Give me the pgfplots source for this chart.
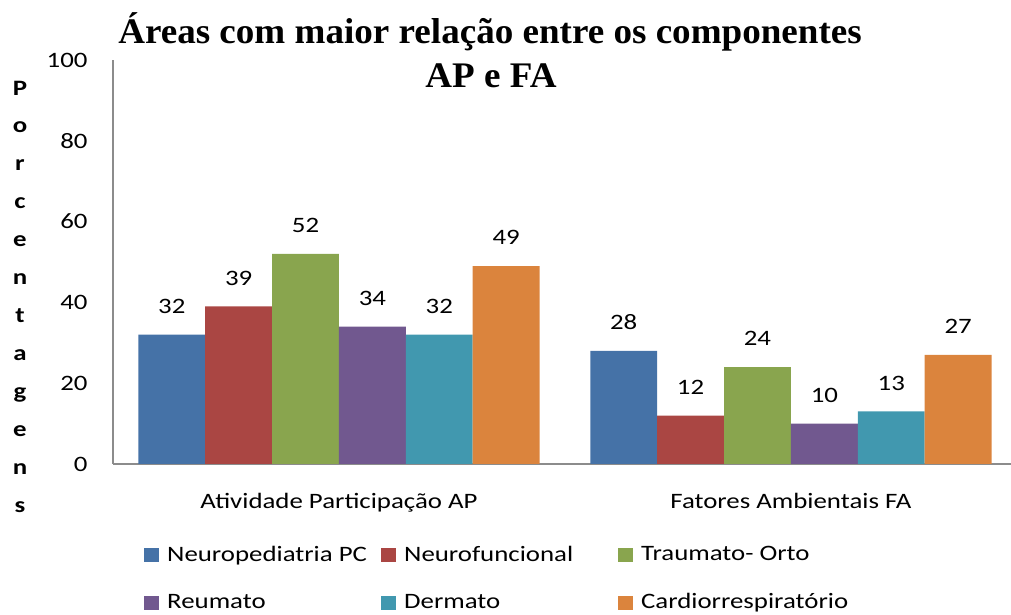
\documentclass[border=0pt]{standalone}
\usepackage{fontspec}
\setmainfont{Carlito}[FakeStretch=1.22]
\newfontfamily\titlefont[FakeStretch=1.03]{Liberation Serif}
\usepackage{pgfplots}
\pgfplotsset{compat=1.18}
\definecolor{cA}{HTML}{4572A7}
\definecolor{cB}{HTML}{AA4643}
\definecolor{cC}{HTML}{89A54E}
\definecolor{cD}{HTML}{71588F}
\definecolor{cE}{HTML}{4198AF}
\definecolor{cF}{HTML}{DB843D}
\begin{document}
\fontsize{22}{26}\selectfont
\begin{tikzpicture}[x=1pt,y=1pt]
\useasboundingbox (0,0) rectangle (1011,615);
\begin{axis}[
  at={(113pt,151pt)}, anchor=south west,
  scale only axis, width=898pt, height=404pt,
  xmin=-0.5, xmax=1.487, ymin=0, ymax=100,
  axis x line*=bottom, axis y line*=left,
  axis line style={draw=gray!90, line width=1.2pt, -},
  major tick length=0pt,
  ytick={0,20,...,100},
  xtick={0,1},
  xticklabels={Atividade Participação AP, Fatores Ambientais FA},
  xticklabel style={yshift=-22pt},
  yticklabel style={xshift=-18pt},
  /pgf/number format/assume math mode=true,
  ybar=0pt, bar width=0.148,
  nodes near coords,
  every node near coord/.append style={anchor=south, inner sep=0pt, yshift=21pt},
  legend columns=3,
  legend style={draw=none, at={(0.0345,-0.1975)}, anchor=north west,
    row sep=25pt, inner sep=0pt,
    /tikz/every even column/.append style={column sep=8pt}},
  legend cell align=left,
  legend image code/.code={\fill[#1] (0pt,-7pt) rectangle (15pt,7pt);},
]
\addplot[fill=cA, draw=none, bar shift=-0.37] coordinates {(0,32) (1,28)};
\addlegendentry{\makebox[210pt][l]{\hspace*{6pt}Neuropediatria PC}}
\addplot[fill=cB, draw=none, bar shift=-0.222] coordinates {(0,39) (1,12)};
\addlegendentry{\makebox[210pt][l]{\hspace*{6pt}Neurofuncional}}
\addplot[fill=cC, draw=none, bar shift=-0.074] coordinates {(0,52) (1,24)};
\addlegendentry{\makebox[210pt][l]{\hspace*{6pt}Traumato- Orto}}
\addplot[fill=cD, draw=none, bar shift=0.074] coordinates {(0,34) (1,10)};
\addlegendentry{\makebox[210pt][l]{\hspace*{6pt}Reumato}}
\addplot[fill=cE, draw=none, bar shift=0.222] coordinates {(0,32) (1,13)};
\addlegendentry{\makebox[210pt][l]{\hspace*{6pt}Dermato}}
\addplot[fill=cF, draw=none, bar shift=0.37] coordinates {(0,49) (1,27)};
\addlegendentry{\makebox[210pt][l]{\hspace*{6pt}Cardiorrespiratório}}
\end{axis}
\node[font=\titlefont\bfseries\fontsize{36}{43}\selectfont, anchor=base] at (490,615-44) {Áreas com maior relação entre os componentes};
\node[font=\titlefont\bfseries\fontsize{36}{43}\selectfont, anchor=base] at (491,615-88) {AP e FA};
\node[font=\bfseries\fontsize{22}{37.9}\selectfont, align=center] at (20,615-296.5) {P\\o\\r\\c\\e\\n\\t\\a\\g\\e\\n\\s};
\end{tikzpicture}
\end{document}
